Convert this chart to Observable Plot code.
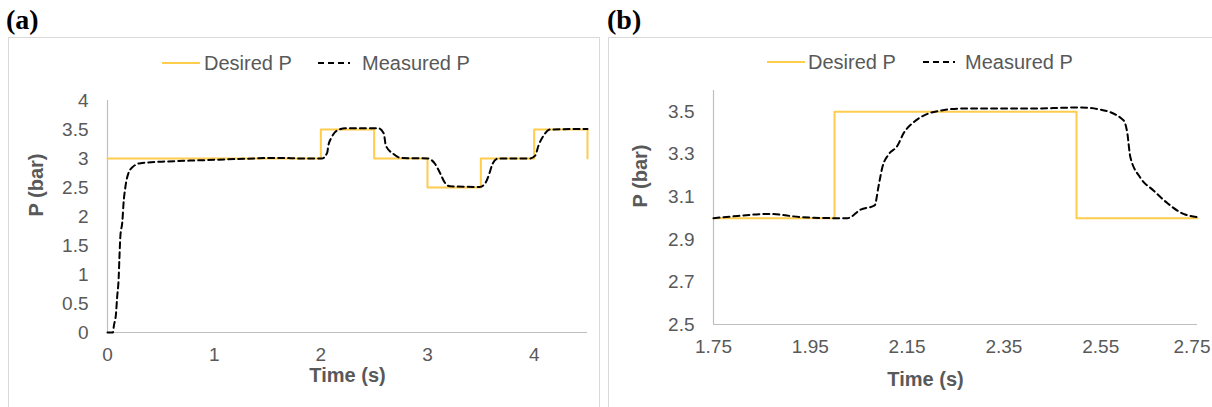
<!DOCTYPE html>
<html>
<head>
<meta charset="utf-8">
<script src="https://cdn.jsdelivr.net/npm/d3@7"></script>
<script src="https://cdn.jsdelivr.net/npm/@observablehq/plot@0.6"></script>
<style>
  html, body { margin: 0; padding: 0; background: #fff; }
  #root { position: relative; width: 1212px; height: 407px; overflow: hidden; background: #fff;
          font-family: "Liberation Sans", Arial, sans-serif; }
  .frame { position: absolute; border: 1px solid #d9d9d9; box-sizing: border-box; }
  .tag { position: absolute; font-family: "Liberation Serif", "Times New Roman", serif; font-weight: bold; font-size: 28px; line-height: 28px; color: #000; }
  .leg { position: absolute; font-size: 20px; line-height: 24px; color: #595959; white-space: nowrap; }
  .sw { position: absolute; }
  .plotwrap { position: absolute; top: 0; }
</style>
</head>
<body>
<div id="root">
  <div class="frame" style="left:8px; top:37px; width:592px; height:400px;"></div>
  <div class="frame" style="left:608px; top:37px; width:640px; height:400px;"></div>
  <div class="tag" style="left:6px; top:6px;">(a)</div>
  <div class="tag" style="left:607px; top:6px;">(b)</div>
  <div id="plotA" class="plotwrap" style="left:0px;"></div>
  <div id="plotB" class="plotwrap" style="left:600px;"></div>
  <div id="legA"></div>
  <div id="legB"></div>
</div>
<script>
// ---------- data ----------
const seriesNames = ["Desired P", "Measured P"];

// Panel (a)
const desiredA_t = [0, 2, 2.5, 3, 3.5, 4, 4.5];
const desiredA_p = [3, 3.5, 3, 2.5, 3, 3.5, 3];
const measuredA_t = [0, 0.05, 0.06, 0.08, 0.09, 0.105, 0.112, 0.12, 0.14, 0.15, 0.167, 0.195, 0.24, 0.31, 0.57, 0.88, 1.2, 1.6, 1.85,
  2.01, 2.06, 2.07, 2.1, 2.15, 2.23, 2.54, 2.59, 2.61, 2.68, 2.75, 3.0, 3.07, 3.12, 3.16, 3.21, 3.49, 3.54, 3.58, 3.61, 3.66,
  3.96, 4.01, 4.04, 4.09, 4.15, 4.5];
const measuredA_p = [0, 0, 0.12, 0.33, 0.6, 0.95, 1.3, 1.64, 1.93, 2.22, 2.5, 2.74, 2.86, 2.92, 2.95, 2.97, 2.99, 3.01, 3.0,
  3.0, 3.1, 3.22, 3.36, 3.48, 3.52, 3.52, 3.43, 3.22, 3.08, 3.01, 3.0, 2.91, 2.74, 2.59, 2.52, 2.51, 2.57, 2.74, 2.91, 3.0,
  3.0, 3.05, 3.22, 3.4, 3.5, 3.51];
const xTicksA = [0, 1, 2, 3, 4];
const yTicksA = [0, 0.5, 1, 1.5, 2, 2.5, 3, 3.5, 4];

// Panel (b)
const desiredB_t = [1.75, 2.0, 2.5, 2.75];
const desiredB_p = [3, 3.5, 3, 3];
const measuredB_t = [1.75, 1.8, 1.862, 1.93, 1.998, 2.027, 2.054, 2.083, 2.091, 2.099, 2.112, 2.13, 2.143, 2.163, 2.192, 2.219,
  2.26, 2.4, 2.508, 2.55, 2.597, 2.605, 2.611, 2.632, 2.659, 2.688, 2.721, 2.75];
const measuredB_p = [3.0, 3.01, 3.02, 3.005, 3.0, 3.0, 3.04, 3.06, 3.15, 3.24, 3.3, 3.34, 3.4, 3.45, 3.49, 3.505,
  3.515, 3.515, 3.52, 3.51, 3.46, 3.4, 3.29, 3.19, 3.13, 3.07, 3.02, 3.005];
const xTicksB = [1.75, 1.95, 2.15, 2.35, 2.55, 2.75];
const yTicksB = [2.5, 2.7, 2.9, 3.1, 3.3, 3.5];

const xLabel = "Time (s)";
const yLabel = "P (bar)";

// ---------- styles ----------
const GOLD = "#ffcc4d";
const GRAY = "#595959";
const AXIS = "#bfbfbf";
const DASH = "6,4";
const fmt = (d) => String(d);

function zip(ts, ps) { return ts.map((t, i) => ({t, p: ps[i]})); }

function makePanel(cfg) {
  const mainTicks = cfg.lastTickDx ? cfg.xTicks.slice(0, -1) : cfg.xTicks;
  const marks = [
    Plot.ruleX([cfg.xDomain[0]], {stroke: AXIS, strokeWidth: 1.2}),
    Plot.ruleY([cfg.yDomain[0]], {stroke: AXIS, strokeWidth: 1.2}),
    Plot.axisX(mainTicks, {tickSize: 0, tickPadding: 15, label: null, fill: GRAY, fontSize: 19, tickFormat: fmt}),
    Plot.axisY(cfg.yTicks, {tickSize: 0, tickPadding: 19, label: null, fill: GRAY, fontSize: 19, tickFormat: fmt}),
    Plot.line(cfg.desired, {x: "t", y: "p", curve: "step-after", stroke: GOLD, strokeWidth: 2}),
    Plot.line(cfg.measured, {x: "t", y: "p", curve: "monotone-x", stroke: "#000", strokeWidth: 2, strokeDasharray: DASH}),
    Plot.text([xLabel], {frameAnchor: "bottom", dy: cfg.xTitleDy, dx: cfg.xTitleDx, fontWeight: "bold", fontSize: 20, fill: GRAY}),
    Plot.text([yLabel], {frameAnchor: "left", dx: cfg.yTitleDx, rotate: -90, fontWeight: "bold", fontSize: 20, fill: GRAY})
  ];
  if (cfg.lastTickDx) {
    marks.push(Plot.axisX(cfg.xTicks.slice(-1), {tickSize: 0, tickPadding: 15, label: null, fill: GRAY, fontSize: 19,
      tickFormat: fmt, textAnchor: "end", dx: cfg.lastTickDx}));
  }
  return Plot.plot({
    width: cfg.width, height: 407,
    marginLeft: cfg.ml, marginRight: cfg.mr, marginTop: cfg.mt, marginBottom: cfg.mb,
    style: {background: "transparent", fontFamily: "'Liberation Sans', Arial, sans-serif", fontSize: "19px", color: GRAY},
    x: {domain: cfg.xDomain},
    y: {domain: cfg.yDomain},
    marks
  });
}

document.getElementById("plotA").append(makePanel({
  width: 600, ml: 107, mr: 13, mt: 100, mb: 75,
  xDomain: [0, 4.5], yDomain: [0, 4], xTicks: xTicksA, yTicks: yTicksA,
  desired: zip(desiredA_t, desiredA_p), measured: zip(measuredA_t, measuredA_p),
  xTitleDy: 49, xTitleDx: 0, yTitleDx: -71
}));

document.getElementById("plotB").append(makePanel({
  width: 612, ml: 113, mr: 15, mt: 90, mb: 83,
  xDomain: [1.75, 2.75], yDomain: [2.5, 3.6], xTicks: xTicksB, yTicks: yTicksB,
  desired: zip(desiredB_t, desiredB_p), measured: zip(measuredB_t, measuredB_p),
  xTitleDy: 61, xTitleDx: -30, yTitleDx: -73, lastTickDx: 13
}));

// ---------- legends (HTML, above the plot areas) ----------
function legend(el, pos) {
  const svgNS = "http://www.w3.org/2000/svg";
  const root = document.getElementById(el);
  const swatches = [
    {x: pos.sw1, w: 38, dash: null, color: GOLD, label: seriesNames[0], tx: pos.t1},
    {x: pos.sw2, w: 32, dash: DASH, color: "#000", label: seriesNames[1], tx: pos.t2}
  ];
  for (const s of swatches) {
    const svg = document.createElementNS(svgNS, "svg");
    svg.setAttribute("class", "sw");
    svg.setAttribute("width", s.w);
    svg.setAttribute("height", 6);
    svg.style.left = s.x + "px";
    svg.style.top = (pos.y - 3) + "px";
    const ln = document.createElementNS(svgNS, "line");
    ln.setAttribute("x1", 0); ln.setAttribute("x2", s.w);
    ln.setAttribute("y1", 3); ln.setAttribute("y2", 3);
    ln.setAttribute("stroke", s.color); ln.setAttribute("stroke-width", 2);
    if (s.dash) ln.setAttribute("stroke-dasharray", s.dash);
    svg.appendChild(ln);
    root.appendChild(svg);
    const d = document.createElement("div");
    d.className = "leg";
    d.textContent = s.label;
    d.style.left = s.tx + "px";
    d.style.top = (pos.y - 12) + "px";
    root.appendChild(d);
  }
}
legend("legA", {y: 63, sw1: 162, t1: 204, sw2: 318, t2: 362});
legend("legB", {y: 62, sw1: 767, t1: 808, sw2: 923, t2: 965});
</script>
</body>
</html>
